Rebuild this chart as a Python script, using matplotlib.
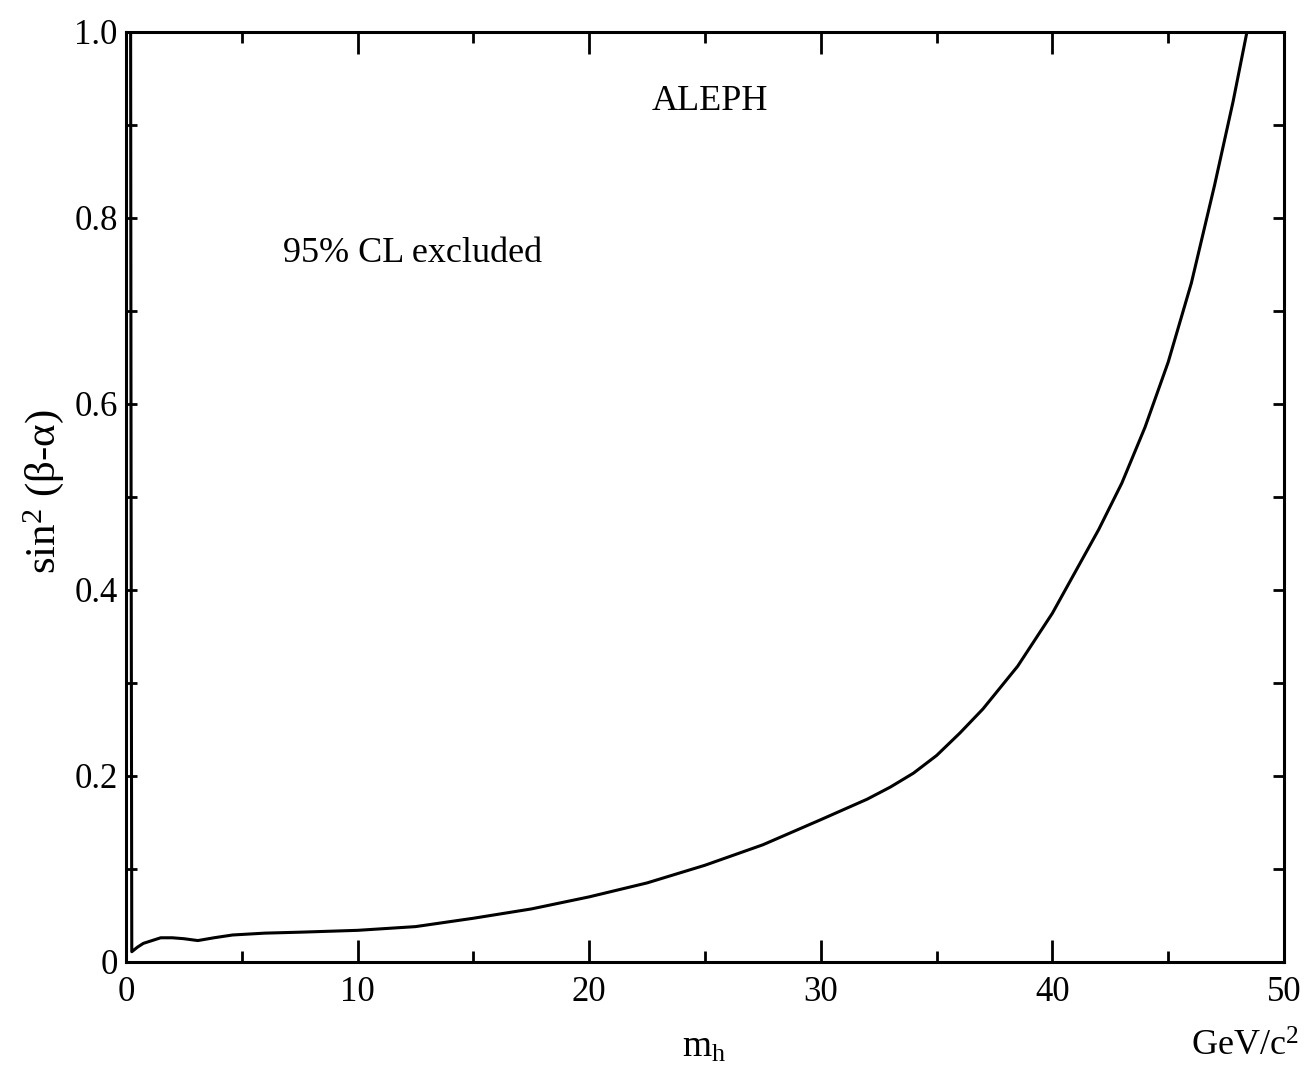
import matplotlib
matplotlib.use("Agg")
import matplotlib.pyplot as plt
from matplotlib.ticker import MultipleLocator

plt.rcParams['font.family'] = ['Liberation Serif', 'DejaVu Serif']
plt.rcParams['mathtext.fontset'] = 'custom'
plt.rcParams['mathtext.rm'] = 'Liberation Serif'
plt.rcParams['mathtext.it'] = 'Liberation Serif:italic'

# exclusion contour (m_h in GeV/c^2, sin^2(beta-alpha))
m_h = [0.20, 0.22, 0.25, 0.5, 0.75, 1.0, 1.5, 2.0, 2.5, 3.1, 3.8, 4.6, 6.0, 7.5,
       10.0, 12.5, 15.0, 17.5, 20.0, 22.5, 25.0, 27.5, 30.0, 32.0, 33.0, 34.0,
       35.0, 36.0, 37.0, 38.5, 40.0, 41.0, 42.0, 43.0, 44.0, 45.0, 46.0, 47.0,
       47.8, 48.4]
sin2 = [1.0, 0.5, 0.011, 0.016, 0.020, 0.022, 0.026, 0.026, 0.025, 0.023, 0.026,
        0.029, 0.031, 0.032, 0.034, 0.038, 0.047, 0.057, 0.070, 0.085, 0.104,
        0.126, 0.153, 0.175, 0.188, 0.203, 0.222, 0.246, 0.272, 0.318, 0.375,
        0.420, 0.465, 0.515, 0.575, 0.645, 0.730, 0.835, 0.925, 1.0]

fig = plt.figure(figsize=(13.07, 10.80), dpi=100)
ax = fig.add_axes([0.0964, 0.1093, 0.886, 0.8611])

ax.plot(m_h, sin2, color='black', lw=2.2, solid_joinstyle='round')

ax.set_xlim(0, 50)
ax.set_ylim(0, 1.0)
ax.xaxis.set_major_locator(MultipleLocator(10))
ax.xaxis.set_minor_locator(MultipleLocator(5))
ax.yaxis.set_major_locator(MultipleLocator(0.2))
ax.yaxis.set_minor_locator(MultipleLocator(0.1))
ax.yaxis.set_major_formatter(plt.FuncFormatter(lambda v, p: '0' if v == 0 else '%.1f' % v))

ax.tick_params(axis='both', which='both', direction='in', top=True, right=True,
               labelsize=25, width=2)
ax.tick_params(axis='x', which='major', length=16, pad=10)
ax.tick_params(axis='x', which='minor', length=8)
ax.tick_params(axis='y', which='both', length=8, pad=6)
for s in ax.spines.values():
    s.set_linewidth(2.2)

ax.text(25.2, 0.925, 'ALEPH', fontsize=26, ha='center', va='center')
ax.text(6.8, 0.762, '95% CL excluded', fontsize=26, ha='left', va='center')

fig.text(0.033, 0.545, 'sin$^{2}$ (β-α)', rotation=90, fontsize=31,
         ha='center', va='center')
fig.text(0.539, 0.03, 'm$_{\\mathrm{h}}$', fontsize=27, ha='center', va='center')
fig.text(0.9526, 0.03, 'GeV/c$^{2}$', fontsize=26, ha='center', va='center')

fig.savefig('out.png', dpi=100)
